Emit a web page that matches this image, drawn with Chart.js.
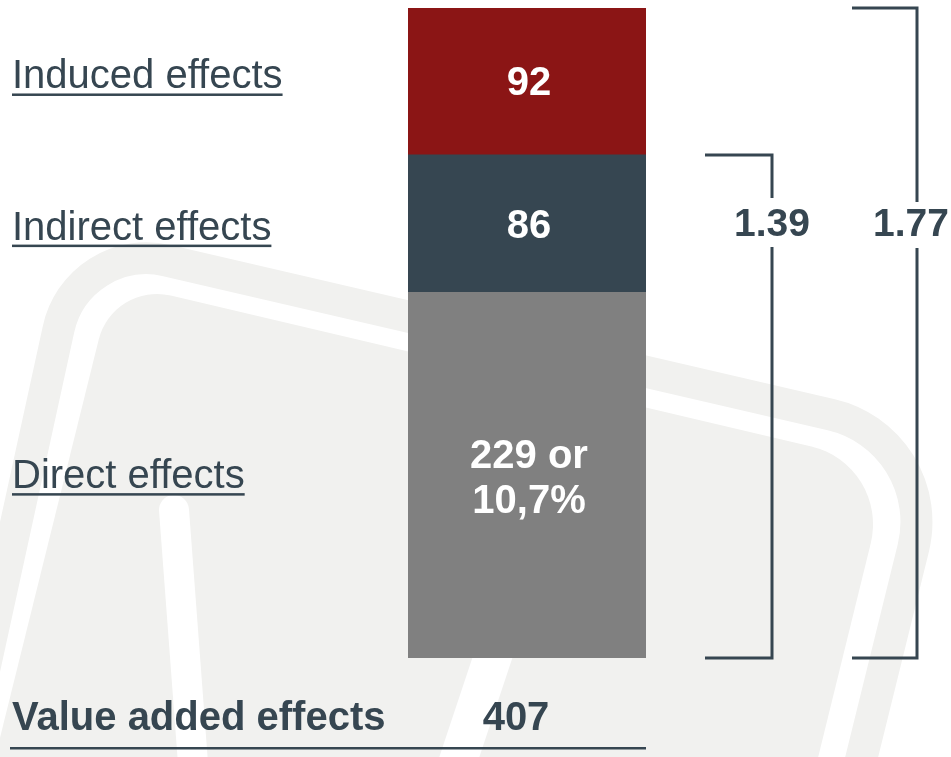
<!DOCTYPE html>
<html>
<head>
<meta charset="utf-8">
<script src="https://cdn.jsdelivr.net/npm/chart.js@4/dist/chart.umd.min.js"></script>
<style>
  body { margin: 0; background: #fff; }
  canvas { display: block; }
</style>
</head>
<body>
<canvas id="valueChart" width="951" height="757"></canvas>
<script>
// data
const categories = ['Value added effects'];
const seriesNames = ['Direct effects', 'Indirect effects', 'Induced effects'];
const directValues = [229];
const indirectValues = [86];
const inducedValues = [92];
const barLabels = [['229 or', '10,7%'], ['86'], ['92']];
const multiplierLabels = ['1.39', '1.77'];

const TEXT = '#364651';
const FONT = '"Liberation Sans", Arial, sans-serif';
const total = directValues[0] + indirectValues[0] + inducedValues[0];

// faint logo watermark behind everything
const watermark = {
    id: 'watermark',
    beforeDraw(chart) {
        const ctx = chart.ctx;
        ctx.save();
        ctx.fillStyle = '#fff';
        ctx.fillRect(0, 0, chart.width, chart.height);
        ctx.fillStyle = '#f1f1ef';
        ctx.strokeStyle = '#f1f1ef';
        // outer band
        ctx.lineWidth = 32;
        ctx.beginPath();
        ctx.moveTo(-40, 780);
        ctx.arcTo(78, 240, 940, 440, 90);
        ctx.arcTo(940, 440, 856, 780, 110);
        ctx.lineTo(856, 780);
        ctx.stroke();
        // inner fill
        ctx.beginPath();
        ctx.moveTo(-8, 770);
        ctx.arcTo(113, 282, 890, 465, 60);
        ctx.arcTo(890, 465, 815, 770, 80);
        ctx.lineTo(815, 770);
        ctx.closePath();
        ctx.fill();
        // white cuts inside the fill
        ctx.strokeStyle = '#fff';
        ctx.lineCap = 'round';
        ctx.lineWidth = 30;
        ctx.beginPath();
        ctx.moveTo(174, 510);
        ctx.lineTo(195, 790);
        ctx.stroke();
        ctx.lineCap = 'butt';
        ctx.lineWidth = 38;
        ctx.beginPath();
        ctx.moveTo(505, 620);
        ctx.lineTo(455, 770);
        ctx.stroke();
        ctx.restore();
    }
};

// labels, brackets and the total line
const annotations = {
    id: 'annotations',
    afterDraw(chart) {
        const ctx = chart.ctx;
        const y = chart.scales.y;
        const area = chart.chartArea;
        const cx = (area.left + area.right) / 2;
        const bounds = [0, directValues[0], directValues[0] + indirectValues[0], total];

        ctx.save();
        ctx.textBaseline = 'middle';

        // numbers inside bar segments
        ctx.fillStyle = '#fff';
        ctx.textAlign = 'center';
        ctx.font = 'bold 40px ' + FONT;
        const barOffsets = [4, 3, 3];
        for (let i = 0; i < 3; i++) {
            const mid = (y.getPixelForValue(bounds[i]) + y.getPixelForValue(bounds[i + 1])) / 2 + barOffsets[i];
            const lines = barLabels[i];
            lines.forEach((t, k) => {
                ctx.fillText(t, cx + 2, mid + (k - (lines.length - 1) / 2) * 45);
            });
        }

        // underlined series names on the left
        ctx.fillStyle = TEXT;
        ctx.textAlign = 'left';
        ctx.font = '40px ' + FONT;
        const nameOffsets = [2, 5, -4];
        for (let i = 0; i < 3; i++) {
            const mid = (y.getPixelForValue(bounds[i]) + y.getPixelForValue(bounds[i + 1])) / 2 + nameOffsets[i];
            ctx.fillText(seriesNames[i], 12, mid);
            const w = ctx.measureText(seriesNames[i]).width;
            ctx.fillRect(12, mid + 16, w, 2.5);
        }

        // total row
        ctx.font = 'bold 40px ' + FONT;
        ctx.fillText(categories[0], 12, 719);
        ctx.textAlign = 'center';
        ctx.fillText(String(total), cx - 11, 719);
        ctx.fillRect(10, 747, area.right - 10, 2.5);

        // multiplier brackets
        ctx.strokeStyle = TEXT;
        const bottom = y.getPixelForValue(0);
        const brackets = [
            { top: y.getPixelForValue(bounds[2]), x0: 705, x1: 772, gap: [198, 247], tx: 772 },
            { top: y.getPixelForValue(bounds[3]), x0: 852, x1: 917, gap: [202, 248], tx: 911 }
        ];
        ctx.lineWidth = 3;
        ctx.lineJoin = 'miter';
        ctx.font = 'bold 39px ' + FONT;
        brackets.forEach((b, i) => {
            ctx.beginPath();
            ctx.moveTo(b.x0, b.top);
            ctx.lineTo(b.x1, b.top);
            ctx.lineTo(b.x1, b.gap[0]);
            ctx.stroke();
            ctx.beginPath();
            ctx.moveTo(b.x1, b.gap[1]);
            ctx.lineTo(b.x1, bottom);
            ctx.lineTo(b.x0, bottom);
            ctx.stroke();
            ctx.fillText(multiplierLabels[i], b.tx, 225);
        });
        ctx.restore();
    }
};

new Chart(document.getElementById('valueChart'), {
    type: 'bar',
    data: {
        labels: categories,
        datasets: [
            { label: seriesNames[0], data: directValues, backgroundColor: '#808080' },
            { label: seriesNames[1], data: indirectValues, backgroundColor: '#364651' },
            { label: seriesNames[2], data: inducedValues, backgroundColor: '#8b1515' }
        ]
    },
    options: {
        responsive: false,
        animation: false,
        layout: { padding: { left: 408, right: 305, top: 8, bottom: 99 } },
        datasets: { bar: { barPercentage: 1, categoryPercentage: 1, borderWidth: 0 } },
        plugins: {
            legend: { display: false },
            tooltip: { enabled: false }
        },
        scales: {
            x: { stacked: true, display: false },
            y: { stacked: true, display: false, min: 0, max: total }
        }
    },
    plugins: [watermark, annotations]
});
</script>
</body>
</html>
